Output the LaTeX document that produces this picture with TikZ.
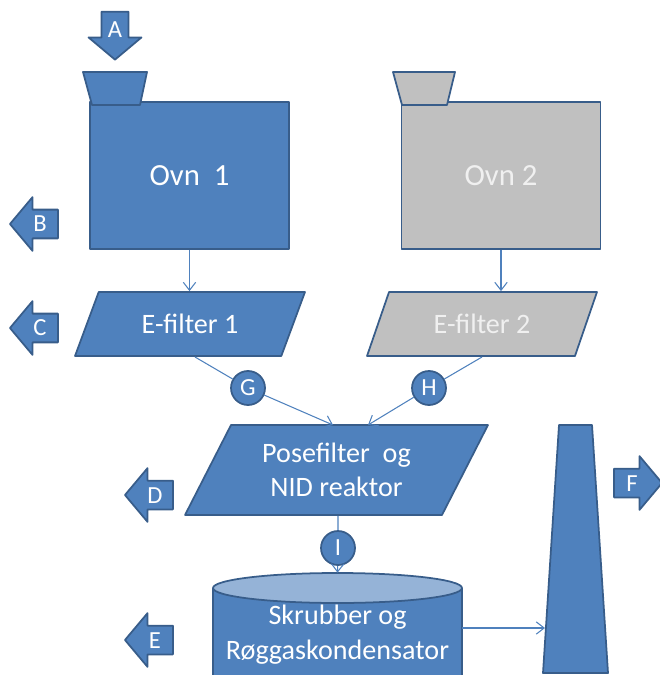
\documentclass[tikz,border=0pt]{standalone}
\usepackage{fontspec}
\setmainfont{Carlito}
\usepackage{tikz}
\usetikzlibrary{positioning, shapes.geometric, shapes.arrows, arrows.meta}

\definecolor{boxblue}{HTML}{4F81BD}
\definecolor{edgeblue}{HTML}{385D8A}
\definecolor{boxgray}{HTML}{C0C0C0}
\definecolor{topblue}{HTML}{95B3D7}

\tikzset{
  unit/.style={draw=edgeblue, line width=1pt, fill=boxblue, text=white},
  ovnbox/.style={unit, rectangle, minimum width=3.98cm, minimum height=2.94cm,
    font=\fontsize{17.5}{20}\selectfont},
  filterbox/.style={unit, trapezium, trapezium stretches body=true, align=center,
    font=\fontsize{16}{19.5}\selectfont},
  outarrow/.style={unit, single arrow, inner sep=0pt, text width=0.48cm, align=center,
    text height=0.43cm, text depth=0.11cm, single arrow head extend=0.25cm,
    single arrow tip angle=100, minimum height=0.96cm, minimum width=1.06cm,
    font=\fontsize{14}{14}\selectfont},
  ring/.style={unit, circle, minimum size=0.68cm, inner sep=0pt,
    font=\fontsize{14}{14}\selectfont},
  flow/.style={-{Straight Barb[length=4.5pt, width=7pt]}, draw=boxblue, line width=0.6pt},
}

\begin{document}
\begin{tikzpicture}[x=0.02cm, y=-0.02cm, line join=round]
        \useasboundingbox (0,0) rectangle (659,675);

        % ovens
        \node[ovnbox] (ovn1) at (189.5,175.5) {Ovn\ \ 1};
        \node[ovnbox, fill=boxgray, text=white!94!black] (ovn2) at (501,175.5) {Ovn 2};

        % hoppers
        \draw[unit] (83,72) -- (147,72) -- (140,105) -- (92,105) -- cycle;
        \draw[unit, fill=boxgray] (393,72) -- (455,72) -- (447,105) -- (402,105) -- cycle;

        % filters
        \node[filterbox, trapezium left angle=53, trapezium right angle=127,
              minimum width=4.6cm, minimum height=1.28cm] (efilter1) at (190,324) {E-filter 1};
        \node[filterbox, trapezium left angle=55, trapezium right angle=125,
              minimum width=4.6cm, minimum height=1.28cm, fill=boxgray, text=white!94!black]
              (efilter2) at (482,324) {E-filter 2};
        \node[filterbox, trapezium left angle=55, trapezium right angle=125,
              minimum width=6.06cm, minimum height=1.8cm] (posefilter) at (336.5,470)
              {Posefilter\ \ og\\NID reaktor};

        % scrubber (cylinder)
        \fill[boxblue] (213,588) -- (213,675) arc[start angle=180, end angle=360,
              x radius=2.49cm, y radius=0.3cm] -- (462,588) -- cycle;
        \draw[edgeblue, line width=1pt] (213,588) -- (213,675) arc[start angle=180,
              end angle=360, x radius=2.49cm, y radius=0.3cm] -- (462,588);
        \draw[unit, fill=topblue] (337.5,588) ellipse[x radius=2.49cm, y radius=0.3cm];
        \node[align=center, text=white, font=\fontsize{16}{20}\selectfont,
              minimum width=4.98cm, minimum height=2.46cm] (skrubber) at (337.5,634.5)
              {Skrubber og\\Røggaskondensator};

        % chimney
        \draw[unit] (559,425) -- (592,425) -- (608,673) -- (543,673) -- cycle;

        % measuring points
        \node[ring] (G) at (248,388) {G};
        \node[ring] (H) at (429,388) {H};
        \node[ring] (I) at (338,548) {I};

        % outlets
        \node[outarrow, shape border rotate=270] (A) at (115,30) {A};
        \node[outarrow, shape border rotate=180] (B) at (40,224) {B};
        \node[outarrow, shape border rotate=180] (C) at (40,328) {C};
        \node[outarrow, shape border rotate=180] (D) at (155,495) {D};
        \node[outarrow, shape border rotate=180] (E) at (155,640) {E};
        \node[outarrow] (F) at (632,483) {F};

        % gas flow
        \coordinate (gstart) at (195,357);
        \coordinate (gend) at (333,425);
        \coordinate (hstart) at (482,357);
        \coordinate (hend) at (368,425);
        \coordinate (chimin) at (545,628);

        \draw[flow] (ovn1.south) -- (ovn1.south |- efilter1.north);
        \draw[flow] (ovn2.south) -- (ovn2.south |- efilter2.north);
        \draw[flow] (gstart) -- (G) -- (gend);
        \draw[flow] (hstart) -- (H) -- (hend);
        \draw[flow] (posefilter.south -| I) -- (I) -- (skrubber.north);
        \draw[flow] (skrubber.east |- chimin) -- (chimin);
    \end{tikzpicture}
\end{document}
